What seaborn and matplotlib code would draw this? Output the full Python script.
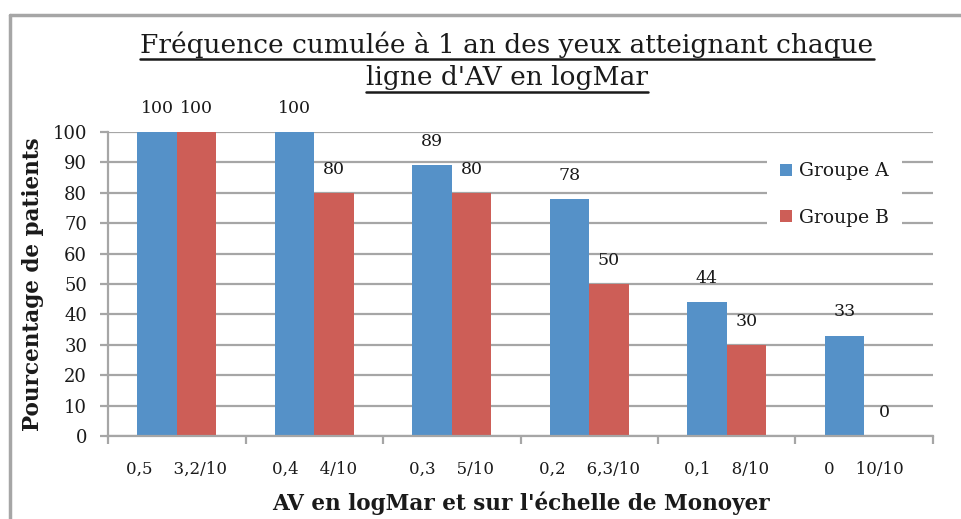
import matplotlib
matplotlib.use("Agg")
import matplotlib.pyplot as plt
from matplotlib.lines import Line2D
import seaborn as sns
import pandas as pd

# data
categories = ["0,5    3,2/10", "0,4    4/10", "0,3    5/10",
              "0,2    6,3/10", "0,1    8/10", "0    10/10"]
groupe_a = [100, 100, 89, 78, 44, 33]
groupe_b = [100, 80, 80, 50, 30, 0]
series_names = ["Groupe A", "Groupe B"]

BLUE = "#5591C8"
RED = "#CD5E57"
GRID = "#A6A6A6"
TXT = "#1a1a1a"

W, H = 962, 519


def main():
    sns.set_theme(style="white")
    plt.rcParams["font.family"] = ["DejaVu Serif", "Liberation Serif"]

    df = pd.DataFrame({
        "cat": categories * 2,
        "val": groupe_a + groupe_b,
        "grp": [series_names[0]] * len(categories) + [series_names[1]] * len(categories),
    })

    fig = plt.figure(figsize=(W / 100, H / 100), dpi=100)
    ax = fig.add_axes([108 / W, 1 - 436 / H, (933 - 108) / W, (436 - 132) / H])

    sns.barplot(data=df, x="cat", y="val", hue="grp", palette=[BLUE, RED],
                width=0.575, gap=0, saturation=1, linewidth=0, ax=ax, legend=True)

    ax.set_xlim(-0.5, len(categories) - 0.5)
    ax.set_ylim(0, 100)
    ax.set_yticks(range(0, 101, 10))
    ax.yaxis.grid(True, color=GRID, linewidth=1.6)
    ax.set_axisbelow(True)

    for s in ["top", "right"]:
        ax.spines[s].set_visible(False)
    for s in ["left", "bottom"]:
        ax.spines[s].set_color(GRID)
        ax.spines[s].set_linewidth(1.6)

    ax.tick_params(axis="y", which="major", direction="out", length=6, width=1.6,
                   color=GRID, labelsize=13, labelcolor=TXT, pad=9, left=True)
    ax.tick_params(axis="x", which="major", length=0, labelsize=12,
                   labelcolor=TXT, pad=18)
    ax.set_xticks([i - 0.5 for i in range(len(categories) + 1)], minor=True)
    ax.tick_params(axis="x", which="minor", direction="out", length=6, width=1.6,
                   color=GRID, bottom=True)

    for cont in ax.containers:
        ax.bar_label(cont, fmt="%d", padding=11, fontsize=12.5, color=TXT)

    ax.set_xlabel("AV en logMar et sur l'échelle de Monoyer", fontsize=15.5,
                  fontweight="bold", color=TXT, labelpad=10)
    ax.set_ylabel("Pourcentage de patients", fontsize=15.5, fontweight="bold",
                  color=TXT, labelpad=6)

    leg = ax.legend(loc="upper left", bbox_to_anchor=((758 - 108) / (933 - 108), 1 - (140 - 132) / 304),
                    frameon=True, fontsize=13.5, handlelength=0.6, handleheight=0.6,
                    handletextpad=0.4, labelspacing=1.5, borderpad=0.7)
    leg.get_frame().set_facecolor("white")
    leg.get_frame().set_edgecolor("none")
    leg.get_frame().set_alpha(1)
    for t in leg.get_texts():
        t.set_color(TXT)

    # title with underline
    t1 = fig.text(507 / W, 1 - 45 / H, "Fréquence cumulée à 1 an des yeux atteignant chaque",
                  ha="center", va="center", fontsize=19, color=TXT)
    t2 = fig.text(507 / W, 1 - 78 / H, "ligne d'AV en logMar",
                  ha="center", va="center", fontsize=19, color=TXT)
    fig.canvas.draw()
    r = fig.canvas.get_renderer()
    for t in (t1, t2):
        bb = t.get_window_extent(r)
        y = bb.y0 - 1
        fig.add_artist(Line2D([bb.x0 / W, bb.x1 / W], [y / H, y / H],
                              transform=fig.transFigure, color=TXT, linewidth=1.8))

    # chart frame (top and left edges)
    fig.add_artist(Line2D([10 / W, 1], [1 - 15 / H, 1 - 15 / H],
                          transform=fig.transFigure, color=GRID, linewidth=2.5))
    fig.add_artist(Line2D([10 / W, 10 / W], [0, 1 - 15 / H],
                          transform=fig.transFigure, color=GRID, linewidth=2.5))

    fig.savefig("out.png", dpi=100)
    plt.close(fig)


if __name__ == "__main__":
    main()
